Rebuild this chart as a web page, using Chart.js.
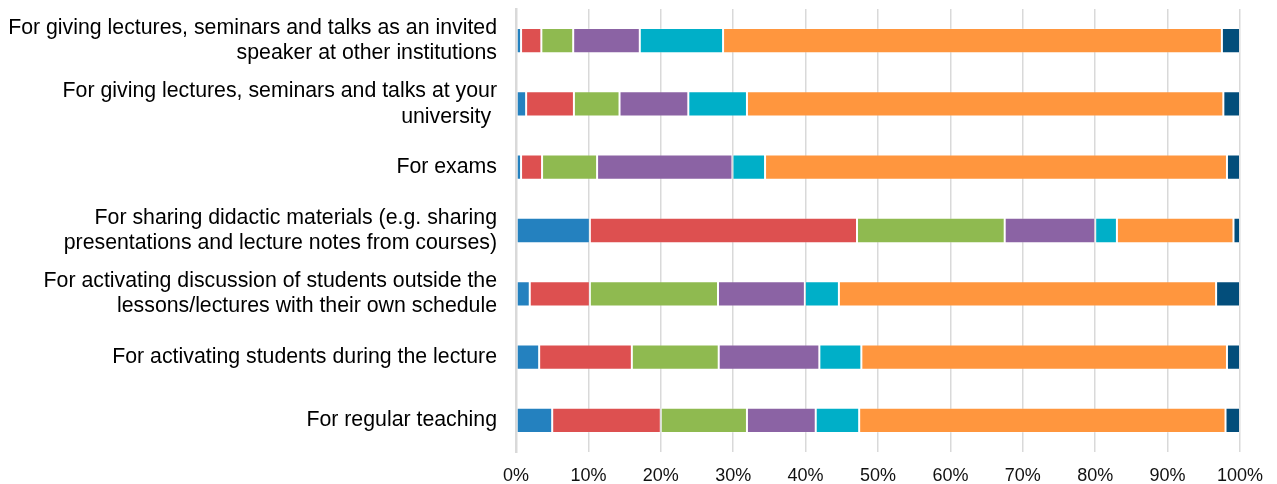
<!DOCTYPE html>
<html>
<head>
<meta charset="utf-8">
<script src="https://cdn.jsdelivr.net/npm/chart.js@4/dist/chart.umd.min.js"></script>
<style>
  html, body { margin: 0; padding: 0; background: #ffffff; }
  #wrap { width: 1277px; height: 484px; }
</style>
</head>
<body>
<div id="wrap"><canvas id="chart" width="1277" height="484"></canvas></div>
<script>
// Purposes of use (top row first); multi-line labels are arrays of lines
const categories = [
  ["For giving lectures, seminars and talks as an invited", "speaker at other institutions"],
  ["For giving lectures, seminars and talks at your", "university "],
  "For exams",
  ["For sharing didactic materials (e.g. sharing", "presentations and lecture notes from courses)"],
  ["For activating discussion of students outside the", "lessons/lectures with their own schedule"],
  "For activating students during the lecture",
  "For regular teaching"
];

// Share of answers per response level, in percent, one value per category
const series1 = [0.7, 1.4, 0.7, 10.2, 1.9, 3.2, 5.0];
const series2 = [2.8, 6.6, 2.9, 36.9, 8.3, 12.8, 15.0];
const series3 = [4.4, 6.3, 7.6, 20.4, 17.7, 12.0, 11.9];
const series4 = [9.2, 9.5, 18.7, 12.5, 12.0, 13.9, 9.5];
const series5 = [11.5, 8.1, 4.5, 3.0, 4.7, 5.8, 6.0];
const series6 = [68.9, 65.8, 63.8, 16.1, 52.1, 50.5, 50.6];
const series7 = [2.5, 2.3, 1.8, 0.9, 3.3, 1.8, 2.0];

// Axis ticks: 0% to 100% in steps of 10
const tickMin = 0;
const tickMax = 100;
const tickStep = 10;

const seriesValues = [series1, series2, series3, series4, series5, series6, series7];
const seriesColors = ['#2481bf', '#dd5050', '#8fba50', '#8b63a4', '#00afc8', '#ff963e', '#034e7b'];

const datasets = seriesValues.map((values, i) => ({
  label: 'Series ' + (i + 1),
  data: values,
  backgroundColor: seriesColors[i],
  borderColor: 'rgba(255,255,255,0.18)',
  borderWidth: 1,
  borderSkipped: false,
  barPercentage: 0.4,
  categoryPercentage: 1.0
}));

const fontFamily = '"Liberation Sans", Arial, Helvetica, sans-serif';

new Chart(document.getElementById('chart'), {
  type: 'bar',
  data: { labels: categories, datasets: datasets },
  options: {
    indexAxis: 'y',
    responsive: false,
    animation: false,
    devicePixelRatio: 1,
    layout: { padding: { left: 0, right: 37, top: 9, bottom: 0 } },
    plugins: {
      legend: { display: false },
      tooltip: { enabled: false }
    },
    scales: {
      x: {
        stacked: true,
        min: tickMin,
        max: tickMax,
        position: 'bottom',
        afterFit: (scale) => {
          scale.height = 32;
          scale.paddingLeft = 0;
          scale.paddingRight = 0;
        },
        grid: {
          color: '#d9d9d9',
          lineWidth: 1.5,
          drawTicks: false
        },
        border: { display: false },
        ticks: {
          stepSize: tickStep,
          padding: 13,
          color: '#111111',
          font: { family: fontFamily, size: 18 },
          callback: (v) => v + '%'
        }
      },
      y: {
        stacked: true,
        afterFit: (scale) => {
          scale.width = 516;
          scale.paddingTop = 0;
          scale.paddingBottom = 0;
        },
        grid: { display: false, drawTicks: false },
        border: { display: true, color: '#d9d9d9', width: 2.5 },
        ticks: {
          padding: 19,
          color: '#000000',
          font: { family: fontFamily, size: 21.3, lineHeight: 1.2 }
        }
      }
    }
  }
});
</script>
</body>
</html>
